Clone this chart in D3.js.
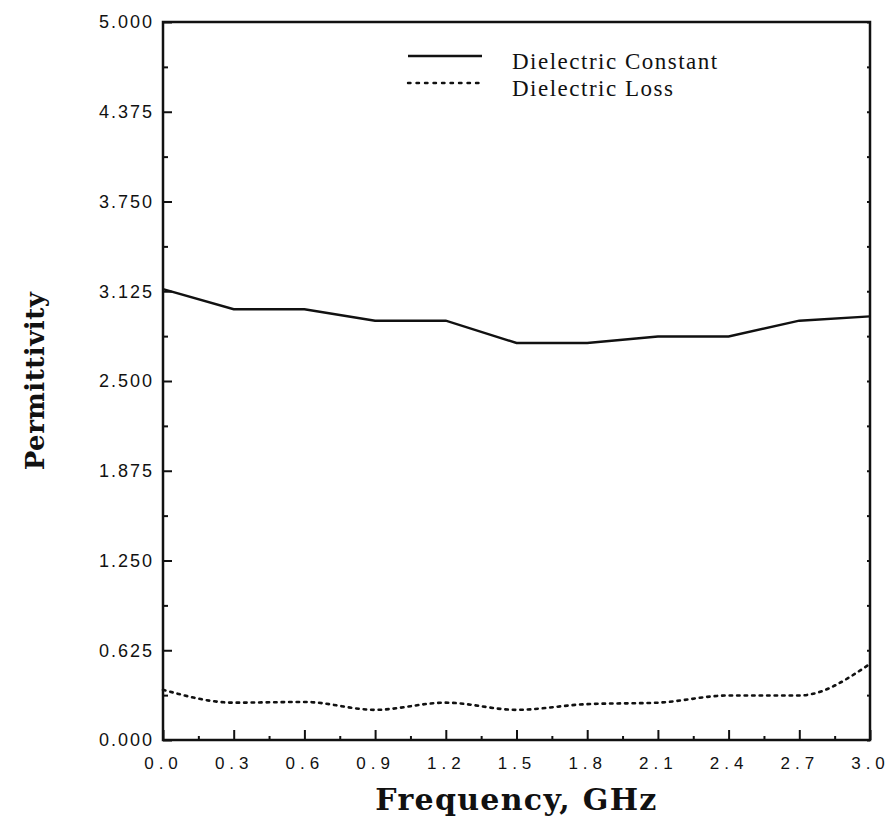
<!DOCTYPE html>
<html>
<head>
<meta charset="utf-8">
<script src="https://cdn.jsdelivr.net/npm/d3@7"></script>
<style>
  body { margin: 0; background: #fff; }
  .tick text { font-family: "Liberation Sans", Arial, sans-serif; fill: #111; }
  .xaxis .tick text { font-size: 17px; letter-spacing: 5px; }
  .yaxis .tick text { font-size: 18px; letter-spacing: 2px; }
  .tick line { stroke: #111; stroke-width: 2; }
</style>
</head>
<body>
<script>
// frequency in GHz
var freq = [0.0, 0.3, 0.6, 0.9, 1.2, 1.5, 1.8, 2.1, 2.4, 2.7, 3.0];
var dielConstant = [3.14, 3.00, 3.00, 2.92, 2.92, 2.765, 2.765, 2.81, 2.81, 2.92, 2.95];
var dielLoss = [0.35, 0.26, 0.265, 0.21, 0.26, 0.21, 0.25, 0.26, 0.31, 0.31, 0.53];

var yTicks = [0, 0.625, 1.25, 1.875, 2.5, 3.125, 3.75, 4.375, 5.0];
var xTicks = [0.0, 0.3, 0.6, 0.9, 1.2, 1.5, 1.8, 2.1, 2.4, 2.7, 3.0];
var legendLabels = ["Dielectric Constant", "Dielectric Loss"];

var w = 892, h = 820;
var padL = 163, padR = 870, padT = 22, padB = 740;

var svg = d3.select("body").append("svg")
    .attr("width", w)
    .attr("height", h);

var x = d3.scaleLinear().domain([0, 3]).range([padL, padR]);
var y = d3.scaleLinear().domain([0, 5]).range([padB, padT]);

// minor tick positions halfway between the majors
var yMinor = yTicks.slice(0, -1).map(function(d, i){ return (d + yTicks[i+1]) / 2; });
var xMinor = xTicks.slice(0, -1).map(function(d, i){ return (d + xTicks[i+1]) / 2; });

svg.append("g")
   .attr("class", "yaxis")
   .attr("transform", "translate(" + padL + ",0)")
   .call(d3.axisLeft(y).tickValues(yTicks).tickSize(-9).tickPadding(9)
         .tickFormat(d3.format(".3f")))
   .call(g => g.select(".domain").remove());

svg.append("g")
   .attr("transform", "translate(" + padL + ",0)")
   .call(d3.axisLeft(y).tickValues(yMinor).tickSize(-5).tickFormat(""))
   .call(g => g.select(".domain").remove());

// small ticks on the right edge
svg.append("g")
   .attr("transform", "translate(" + padR + ",0)")
   .call(d3.axisRight(y).tickValues(yTicks.concat(yMinor)).tickSize(-3).tickFormat(""))
   .call(g => g.select(".domain").remove());

svg.append("g")
   .attr("class", "xaxis")
   .attr("transform", "translate(0," + padB + ")")
   .call(d3.axisBottom(x).tickValues(xTicks).tickSize(-10).tickPadding(17)
         .tickFormat(d3.format(".1f")))
   .call(g => g.select(".domain").remove());

svg.append("g")
   .attr("transform", "translate(0," + padB + ")")
   .call(d3.axisBottom(x).tickValues(xMinor).tickSize(-4).tickFormat(""))
   .call(g => g.select(".domain").remove());

/* frame */
svg.append("rect")
   .attr("x", padL).attr("y", padT)
   .attr("width", padR - padL).attr("height", padB - padT)
   .attr("fill", "none")
   .attr("stroke", "#111")
   .attr("stroke-width", 2.5);

var line = d3.line()
    .x(function(d){ return x(d[0]); })
    .y(function(d){ return y(d[1]); });

svg.append("path")
   .datum(d3.zip(freq, dielConstant))
   .attr("d", line)
   .attr("fill", "none")
   .attr("stroke", "#111")
   .attr("stroke-width", 2.4);

svg.append("path")
   .datum(d3.zip(freq, dielLoss))
   .attr("d", line.curve(d3.curveMonotoneX))
   .attr("fill", "none")
   .attr("stroke", "#111")
   .attr("stroke-width", 2.6)
   .attr("stroke-dasharray", "2.5,5")
   .attr("stroke-linecap", "round");

/* legend */
var legend = svg.append("g");
legendLabels.forEach(function(lbl, i){
    var ly = 56 + i * 27;
    legend.append("line")
       .attr("x1", 408).attr("x2", 482)
       .attr("y1", ly).attr("y2", ly)
       .attr("stroke", "#111")
       .attr("stroke-width", 2.4)
       .attr("stroke-dasharray", i == 0 ? null : "2.5,6")
       .attr("stroke-linecap", i == 0 ? "butt" : "round");
    legend.append("text")
       .attr("x", 512).attr("y", ly + 13)
       .text(lbl)
       .attr("font-family", "'Liberation Serif', serif")
       .attr("font-size", 23)
       .attr("letter-spacing", 1.5)
       .attr("fill", "#111");
});

/* axis titles */
svg.append("text")
   .attr("x", (padL + padR) / 2)
   .attr("y", 810)
   .attr("text-anchor", "middle")
   .attr("font-family", "'DejaVu Serif', serif")
   .attr("font-weight", "bold")
   .attr("font-size", 30)
   .attr("letter-spacing", 1.3)
   .attr("fill", "#111")
   .text("Frequency, GHz");

svg.append("text")
   .attr("transform", "translate(44," + ((padT + padB) / 2) + ") rotate(-90)")
   .attr("text-anchor", "middle")
   .attr("font-family", "'DejaVu Serif', serif")
   .attr("font-weight", "bold")
   .attr("font-size", 26)
   .attr("letter-spacing", 0.5)
   .attr("fill", "#111")
   .text("Permittivity");
</script>
</body>
</html>
